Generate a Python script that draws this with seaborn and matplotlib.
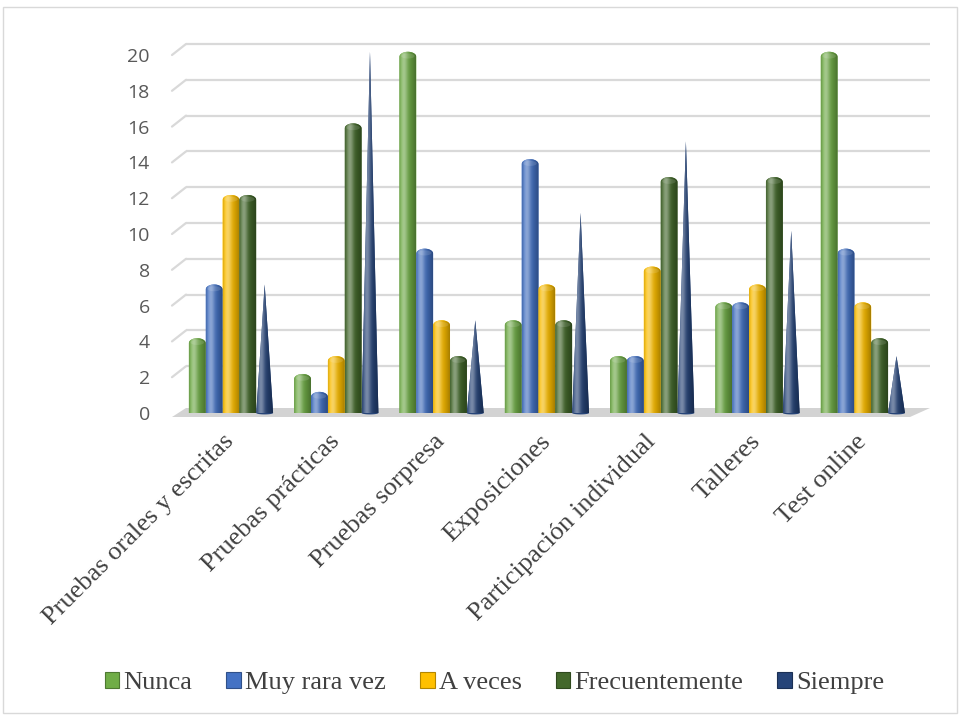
import numpy as np
import pandas as pd
import matplotlib
matplotlib.use("Agg")
import matplotlib.pyplot as plt
import matplotlib.transforms as mtransforms
from matplotlib.patches import Polygon, Patch, Rectangle
from matplotlib.colors import to_rgb
import seaborn as sns

# ---------------- data ----------------
categories = ["Pruebas orales y escritas", "Pruebas prácticas", "Pruebas sorpresa",
              "Exposiciones", "Participación individual", "Talleres", "Test online"]
series_names = ["Nunca", "Muy rara vez", "A veces", "Frecuentemente", "Siempre"]
nunca = [4, 2, 20, 5, 3, 6, 20]
muy_rara_vez = [7, 1, 9, 14, 3, 6, 9]
a_veces = [12, 3, 5, 7, 8, 7, 6]
frecuentemente = [12, 16, 3, 5, 13, 13, 4]
siempre = [7, 20, 5, 11, 15, 10, 3]
y_ticks = [0, 2, 4, 6, 8, 10, 12, 14, 16, 18, 20]

colors = ["#70AD47", "#4472C4", "#FFC000", "#43682B", "#264478"]

values = [nunca, muy_rara_vez, a_veces, frecuentemente, siempre]
df = pd.DataFrame({
    "categoria": np.repeat([categories], len(series_names), axis=0).ravel(),
    "serie": np.repeat(series_names, len(categories)),
    "valor": np.concatenate(values),
})

sns.set_style("white")
plt.rcParams["font.family"] = ["Open Sans", "DejaVu Sans"]

YMAX = 20.6
PX_PER_UNIT = 17.9
fig = plt.figure(figsize=(9.6, 7.16), dpi=100)
ax = fig.add_axes([172 / 960, (716 - 413) / 716, (916 - 172) / 960,
                   YMAX * PX_PER_UNIT / 716])

sns.barplot(data=df, x="categoria", y="valor", hue="serie", hue_order=series_names,
            order=categories, palette=colors, width=0.8, ax=ax, legend=False,
            errorbar=None, saturation=1)

ax.set_xlim(-0.56, 6.505)
ax.set_ylim(0, YMAX)


def gradient(color, n=64):
    base = np.array(to_rgb(color))
    t = np.linspace(0, 1, n)
    hl = 0.40 * np.exp(-((t - 0.3) / 0.22) ** 2)
    dark = 0.35 * t ** 2 + 0.12 * np.exp(-(t / 0.08) ** 2)
    col = base[None, :] * (1 - hl[:, None]) + hl[:, None]
    col = col * (1 - dark[:, None])
    return np.clip(col, 0, 1)[None, :, :]


ry = 0.28   # cap height in data units
lift = 0.18  # small 3-D lift of the bar tops
last = len(series_names) - 1
for i, cont in enumerate(ax.containers):
    grad = gradient(colors[i])
    for p in cont:
        x0, w, h = p.get_x(), p.get_width(), p.get_height()
        p.set_visible(False)
        if i == last:
            tb = np.linspace(np.pi, 0, 20)
            bottom = np.column_stack([x0 + w / 2 + w / 2 * np.cos(tb),
                                      -0.08 * np.sin(tb)])
            pts = np.vstack([[[x0 + w / 2, h + lift]], bottom])
            top = h + lift
        else:
            t = np.linspace(np.pi, 0, 30)
            arc = np.column_stack([x0 + w / 2 + w / 2 * np.cos(t),
                                   h + lift - ry + ry * np.sin(t)])
            pts = np.vstack([[[x0, 0.0]], arc, [[x0 + w, 0.0]]])
            top = h + lift
        poly = Polygon(pts, closed=True, facecolor=colors[i], edgecolor="none",
                       zorder=3, clip_on=False)
        ax.add_patch(poly)
        im = ax.imshow(grad, extent=[x0, x0 + w, -0.1, top + 0.05], aspect="auto",
                       interpolation="bicubic", zorder=3.1)
        im.set_clip_path(poly)
        if i != last:
            t2 = np.linspace(0, 2 * np.pi, 40)
            cap = Polygon(np.column_stack([x0 + w / 2 + 0.40 * w * np.cos(t2),
                                           top - ry * 0.85 + ry * 0.5 * np.sin(t2)]),
                          closed=True, facecolor="white", alpha=0.12,
                          edgecolor="none", zorder=3.2, clip_on=False)
            ax.add_patch(cap)

ax.set_xlim(-0.56, 6.505)
ax.set_ylim(0, YMAX)

# ---- perspective gridlines and floor ----
dx_px, dy_px = 14, 11
front = ax.get_yaxis_transform()
back = mtransforms.offset_copy(front, fig=fig, x=dx_px, y=dy_px, units="dots")
for v in y_ticks[1:]:
    ax.plot([0, 1.0], [v, v], transform=back, color="#d9d9d9", lw=1.6,
            zorder=1, clip_on=False, solid_capstyle="butt")
    p0 = front.transform((0, v))
    p1 = back.transform((0, v))
    ax.plot([p0[0], p1[0]], [p0[1], p1[1]], transform=mtransforms.IdentityTransform(),
            color="#d9d9d9", lw=1.6, zorder=1, clip_on=False)

f0 = front.transform((0, 0)); f1 = front.transform((1.0, 0))
b0 = back.transform((0, 0)); b1 = back.transform((1.0, 0))
floor = Polygon([(f0[0], f0[1] - 4), (f1[0] - 6, f1[1] - 4), (b1[0], b1[1] - 6), (b0[0], b0[1] - 6)],
                closed=True, transform=mtransforms.IdentityTransform(),
                facecolor="#d3d3d3", edgecolor="none", zorder=1.5, clip_on=False)
ax.add_patch(floor)

ax.set_yticks(y_ticks)
ax.set_yticklabels([str(v) for v in y_ticks], fontsize=14, color="#595959",
                   family=["Open Sans", "DejaVu Sans"])
ax.tick_params(axis="y", length=0, pad=16)
ax.tick_params(axis="x", length=0, pad=18)
ax.set_xticks(range(len(categories)))
ax.set_xticklabels(categories, rotation=45, ha="right", va="center",
                   rotation_mode="anchor", fontsize=19, color="#404040",
                   family=["Liberation Serif", "DejaVu Serif"])
ax.set_xlabel("")
ax.set_ylabel("")
ax.grid(False)
for s in ax.spines.values():
    s.set_visible(False)
ax.patch.set_visible(False)

handles = [Patch(facecolor=c, edgecolor=tuple(np.array(to_rgb(c)) * 0.7), linewidth=0.8)
           for c in colors]
leg = fig.legend(handles, series_names, loc="center", bbox_to_anchor=(0.515, 33 / 716),
                 ncol=5, frameon=False, handlelength=0.55, handleheight=0.55,
                 handletextpad=0.15, columnspacing=1.3,
                 prop={"family": ["Liberation Serif", "DejaVu Serif"], "size": 19})
for txt in leg.get_texts():
    txt.set_color("#404040")

fig.patches.append(Rectangle((3 / 960, 3 / 716), 954 / 960, 706 / 716,
                             transform=fig.transFigure, facecolor="none",
                             edgecolor="#d9d9d9", lw=1))

fig.savefig("out.png", dpi=100)
